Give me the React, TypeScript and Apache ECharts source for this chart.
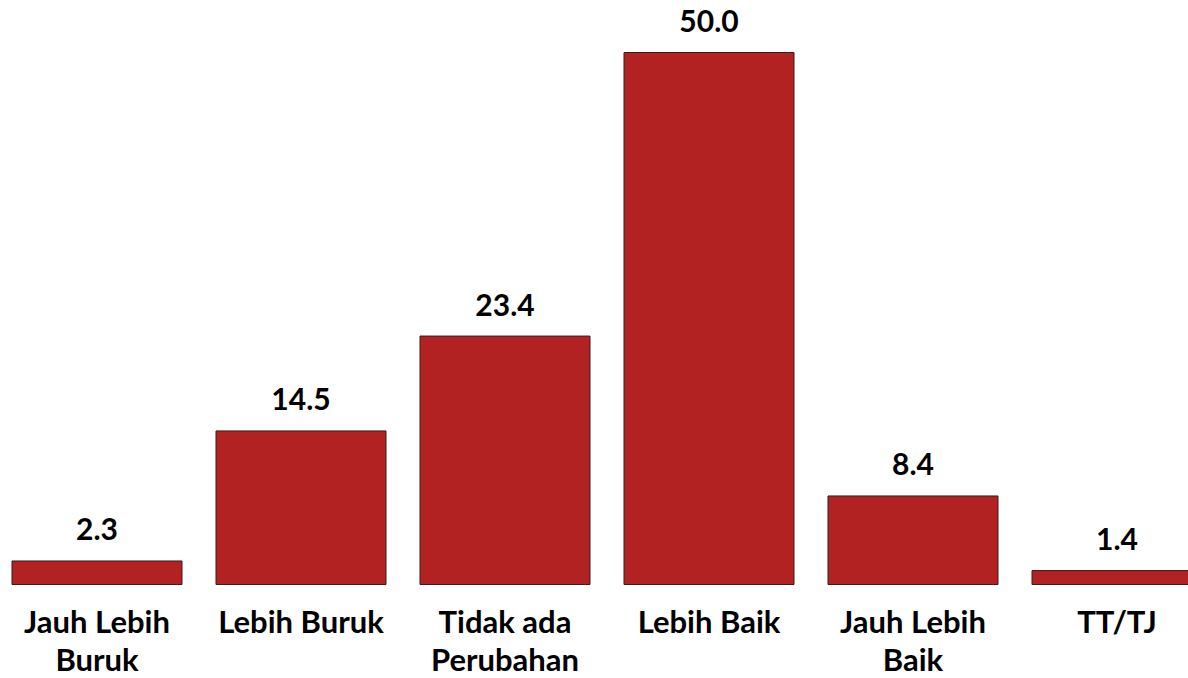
import React, { useEffect, useRef } from "react";
import * as echarts from "echarts";

const categories = ["Jauh Lebih\nBuruk", "Lebih Buruk", "Tidak ada\nPerubahan", "Lebih Baik", "Jauh Lebih\nBaik", "TT/TJ"];
const values = [2.3, 14.5, 23.4, 50.0, 8.4, 1.4];

export default function App() {
  const ref = useRef<HTMLDivElement>(null);
  useEffect(() => {
    if (!ref.current) return;
    const chart = echarts.init(ref.current, null, { renderer: "svg" });
    chart.setOption({
      animation: false,
      backgroundColor: "#ffffff",
      grid: { left: 0, right: 1, top: 52, bottom: 93, containLabel: false, outerBoundsMode: "none" },
      xAxis: {
        type: "category",
        data: categories,
        axisLine: { show: false },
        axisTick: { show: false },
        axisLabel: {
          interval: 0,
          margin: 17,
          color: "#000000",
          fontFamily: "Lato",
          fontWeight: "bold",
          fontSize: 31,
          lineHeight: 38,
        },
      },
      yAxis: { type: "value", min: 0, max: 50, show: false, splitLine: { show: false } },
      series: [
        {
          type: "bar",
          data: values,
          barWidth: 171,
          itemStyle: { color: "#B22222", borderColor: "#3a1c1c", borderWidth: 1 },
          label: {
            show: true,
            position: "top",
            distance: 17,
            color: "#000000",
            fontFamily: "Lato",
            fontWeight: "bold",
            fontSize: 30,
            formatter: (p: any) => Number(p.value).toFixed(1),
          },
        },
      ],
    });
    return () => chart.dispose();
  }, []);
  return (
    <div
      ref={ref}
      style={{ position: "fixed", left: -5, top: 0, width: 1225, height: 678 }}
    />
  );
}
